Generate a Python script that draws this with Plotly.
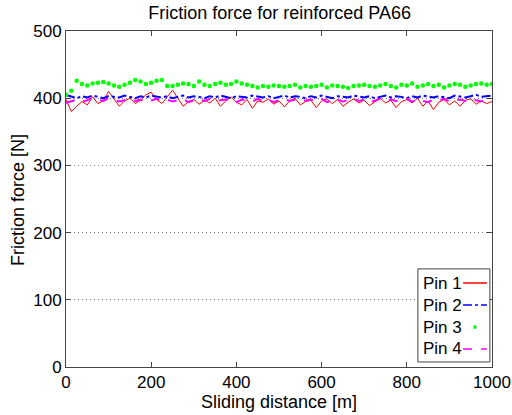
import plotly.graph_objects as go

distance = [i * 12.5 for i in range(81)]

pin1 = [398, 380, 388, 395, 390, 402, 392, 396, 410, 398,
        388, 396, 400, 392, 397, 405, 409, 398, 392, 402,
        412, 400, 388, 395, 398, 391, 397, 393, 400, 388,
        396, 402, 394, 390, 398, 385, 396, 394, 399, 391,
        396, 387, 396, 400, 390, 395, 397, 386, 396, 399,
        392, 398, 388, 394, 399, 393, 397, 389, 395, 400,
        393, 397, 386, 395, 398, 393, 400, 388, 396, 383,
        394, 398, 390, 396, 388, 397, 399, 391, 396, 392,
        395]
pin2 = [405, 402, 400, 403, 401, 404, 402, 400, 403, 402,
        401, 404, 402, 400, 403, 401, 404, 402, 401, 403,
        400, 402, 404, 401, 403, 402, 400, 403, 401, 404,
        402, 400, 403, 402, 401, 404, 402, 401, 403, 400,
        402, 404, 401, 403, 402, 400, 403, 401, 404, 402,
        400, 403, 402, 401, 404, 402, 401, 403, 400, 402,
        404, 401, 403, 402, 400, 403, 401, 404, 402, 401,
        403, 402, 400, 404, 402, 401, 403, 405, 402, 403,
        404]
pin3 = [405, 411, 426, 421, 419, 422, 423, 424, 422, 419,
        417, 420, 423, 427, 425, 421, 423, 426, 427, 418,
        418, 420, 422, 421, 418, 425, 420, 418, 421, 423,
        420, 421, 425, 422, 420, 418, 416, 418, 417, 419,
        418, 417, 418, 420, 416, 418, 417, 418, 420, 416,
        419, 418, 417, 415, 418, 419, 420, 418, 417, 419,
        421, 418, 416, 420, 419, 422, 417, 419, 421, 418,
        420, 416, 419, 421, 420, 417, 419, 421, 422, 420,
        421]
pin4 = [393, 396, 398, 395, 397, 401, 399, 396, 400, 398,
        395, 397, 399, 396, 398, 394, 397, 399, 396, 398,
        395, 397, 399, 394, 397, 398, 396, 399, 395, 397,
        398, 396, 394, 398, 397, 395, 399, 396, 398, 394,
        397, 399, 396, 398, 395, 397, 398, 396, 399, 394,
        397, 398, 395, 397, 399, 396, 398, 394, 397, 399,
        395, 398, 396, 397, 399, 395, 398, 396, 394, 398,
        397, 399, 395, 397, 398, 396, 399, 397, 395, 398,
        397]

series_names = ["Pin 1", "Pin 2", "Pin 3", "Pin 4"]
series_colors = ["#ff0000", "#0000ff", "#00ff00", "#ff00ff"]
x_ticks = [0, 200, 400, 600, 800, 1000]
y_ticks = [0, 100, 200, 300, 400, 500]

FONT = "Liberation Sans, Arial, Helvetica, sans-serif"
AX = "#444444"

fig = go.Figure()
fig.add_trace(go.Scatter(x=distance, y=pin1, mode="lines", name=series_names[0],
                         line=dict(color=series_colors[0], width=1)))
fig.add_trace(go.Scatter(x=distance, y=pin2, mode="lines", name=series_names[1],
                         line=dict(color=series_colors[1], width=2, dash="dashdot")))
fig.add_trace(go.Scatter(x=distance, y=pin3, mode="markers", name=series_names[2],
                         marker=dict(color=series_colors[2], size=4.5)))
fig.add_trace(go.Scatter(x=distance, y=pin4, mode="lines", name=series_names[3],
                         line=dict(color=series_colors[3], width=2, dash="dash")))

# MATLAB-style legend: label first, sample to its right
shapes = [dict(type="rect", xref="paper", yref="paper", x0=0.826, x1=0.995,
               y0=0.015, y1=0.292, line=dict(color=AX, width=1),
               fillcolor="white", layer="above")]
annotations = []
dashes = ["solid", "dashdot", None, "dash"]
row_y = [0.25, 0.1845, 0.119, 0.0536]
for name, col, dsh, yy in zip(series_names, series_colors, dashes, row_y):
    annotations.append(dict(text=name, xref="paper", yref="paper", x=0.834, y=yy,
                            xanchor="left", yanchor="middle", showarrow=False,
                            font=dict(size=17, color="black")))
    if dsh is None:
        shapes.append(dict(type="circle", xref="paper", yref="paper",
                           x0=0.956, x1=0.964, y0=yy - 0.006, y1=yy + 0.006,
                           fillcolor=col, line=dict(color=col, width=0), layer="above"))
    else:
        shapes.append(dict(type="line", xref="paper", yref="paper",
                           x0=0.932, x1=0.988, y0=yy, y1=yy,
                           line=dict(color=col, width=1.5, dash=dsh), layer="above"))

# axis titles
annotations.append(dict(text="Sliding distance [m]", xref="paper", yref="paper",
                        x=0.5, y=-0.104, xanchor="center", yanchor="middle",
                        showarrow=False, font=dict(size=18)))
annotations.append(dict(text="Friction force [N]", xref="paper", yref="paper",
                        x=-0.1127, y=0.497, xanchor="center", yanchor="middle",
                        textangle=-90, showarrow=False, font=dict(size=18)))

fig.update_layout(
    width=512, height=415,
    margin=dict(l=66, r=20, t=31, b=48),
    paper_bgcolor="white", plot_bgcolor="white",
    font=dict(family=FONT, size=17, color="black"),
    title=dict(text="Friction force for reinforced PA66", x=0.546, xanchor="center",
               y=0.985, yanchor="top", font=dict(size=18)),
    showlegend=False,
    shapes=shapes,
    annotations=annotations,
)
fig.update_xaxes(range=[0, 1000], tickvals=x_ticks, ticks="inside", ticklen=5,
                 tickcolor=AX, showline=True, linecolor=AX, linewidth=1, mirror="ticks",
                 showgrid=False, zeroline=False, automargin=False)
fig.update_yaxes(range=[0, 500], tickvals=y_ticks, ticks="inside", ticklen=5,
                 tickcolor=AX, showline=True, linecolor=AX, linewidth=1, mirror="ticks",
                 showgrid=True, gridcolor="#777777", gridwidth=1, griddash="1px,3px",
                 zeroline=False, automargin=False)

fig.write_html("out.html")
